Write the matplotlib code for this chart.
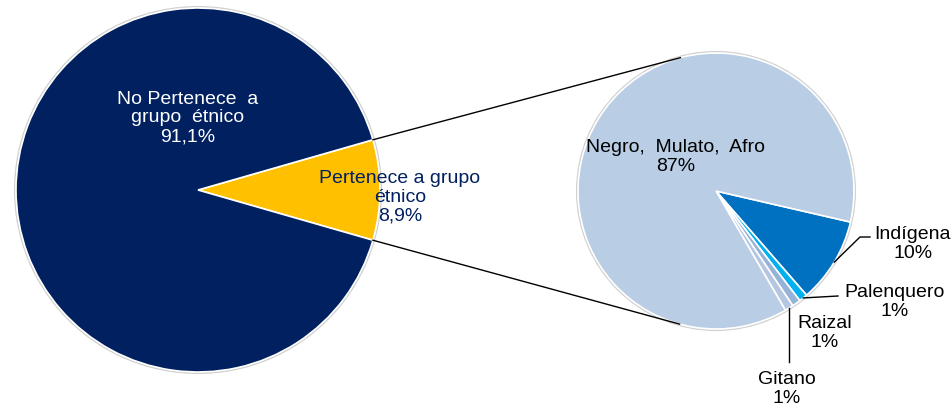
import numpy as np
import matplotlib
matplotlib.use("Agg")
import matplotlib.pyplot as plt
from matplotlib.patches import Circle

plt.rcParams['font.family'] = ['Liberation Sans', 'DejaVu Sans']

# Data
main_labels = ["Pertenece a grupo\nétnico\n8,9%", "No Pertenece  a\ngrupo  étnico\n91,1%"]
main_values = [8.9, 91.1]
main_colors = ["#FFC000", "#002060"]

sub_names = ["Indígena", "Palenquero", "Raizal", "Gitano", "Negro,  Mulato,  Afro"]
sub_values = [10, 1, 1, 1, 87]
sub_pct_labels = ["10%", "1%", "1%", "1%", "87%"]
sub_colors = ["#0070C0", "#00B0F0", "#95B3D7", "#B4C6E0", "#B9CDE5"]

W, H = 952, 409
fig = plt.figure(figsize=(W / 100, H / 100), dpi=100)
ax = fig.add_axes([0, 0, 1, 1])

def py(y):
    return H - y

# Left pie
c1 = (198, py(190)); r1 = 182
half = main_values[0] / 100 * 360 / 2
ax.add_patch(Circle(c1, r1 + 1.2, facecolor='none', edgecolor='#D0D0D0', lw=1.2, zorder=0))
ax.pie(main_values, colors=main_colors, startangle=-half, center=c1, radius=r1,
       wedgeprops=dict(edgecolor='white', linewidth=1.2), frame=True)

# Right pie
c2 = (716, py(191)); r2 = 138
start2 = -13
ax.add_patch(Circle(c2, r2 + 1.2, facecolor='none', edgecolor='#D0D0D0', lw=1.2, zorder=0))
ax.pie(sub_values, colors=sub_colors, startangle=start2, counterclock=False,
       center=c2, radius=r2, wedgeprops=dict(edgecolor='white', linewidth=1.2), frame=True)
ax.set_xlim(0, W)
ax.set_ylim(0, H)
ax.set_aspect('equal')
ax.axis('off')

# Connector lines (tangents from gold wedge edge to sub pie)
def tangent_point(P, C, r, upper):
    dx, dy = P[0] - C[0], P[1] - C[1]
    d = np.hypot(dx, dy)
    phi = np.arctan2(dy, dx)
    a = np.arccos(r / d)
    th = phi - a if upper else phi + a
    return C[0] + r * np.cos(th), C[1] + r * np.sin(th)

for sgn, upper in [(1, True), (-1, False)]:
    ang = np.deg2rad(sgn * half)
    P = (c1[0] + r1 * np.cos(ang), c1[1] + r1 * np.sin(ang))
    T = tangent_point(P, c2, r2, upper)
    ax.plot([P[0], T[0]], [P[1], T[1]], color='black', lw=1.0, zorder=5)

fs = 14
ls = 1.12
# Main labels
ax.text(188, py(118), main_labels[1], color='white', ha='center', va='center',
        fontsize=fs, linespacing=ls)
ax.text(400, py(197), main_labels[0], color='#002060', ha='center', va='center',
        fontsize=fs, linespacing=ls)

# Sub labels
ax.text(676, py(157), sub_names[4] + "\n" + sub_pct_labels[4], color='black',
        ha='center', va='center', fontsize=fs, linespacing=ls)

cum = np.cumsum([0] + sub_values)
def mid_point(i):
    a0 = start2 - cum[i] / 100 * 360
    a1 = start2 - cum[i + 1] / 100 * 360
    m = np.deg2rad((a0 + a1) / 2)
    return c2[0] + r2 * np.cos(m), c2[1] + r2 * np.sin(m)

# Indígena
x0, y0 = mid_point(0)
ax.plot([x0, 860, 870], [y0, py(237), py(237)], color='black', lw=1.0)
ax.text(913, py(244), sub_names[0] + "\n" + sub_pct_labels[0], ha='center', va='center',
        fontsize=fs, linespacing=ls)
# Palenquero
x0, y0 = mid_point(1)
ax.plot([x0, 838], [y0, py(296)], color='black', lw=1.0)
ax.text(895, py(302), sub_names[1] + "\n" + sub_pct_labels[1], ha='center', va='center',
        fontsize=fs, linespacing=ls)
# Raizal
ax.text(825, py(333), sub_names[2] + "\n" + sub_pct_labels[2], ha='center', va='center',
        fontsize=fs, linespacing=ls)
# Gitano
x0, y0 = mid_point(3)
ax.plot([x0, x0], [y0, py(362)], color='black', lw=1.0)
ax.text(787, py(389), sub_names[3] + "\n" + sub_pct_labels[3], ha='center', va='center',
        fontsize=fs, linespacing=ls)

fig.savefig("out.png", dpi=100)
